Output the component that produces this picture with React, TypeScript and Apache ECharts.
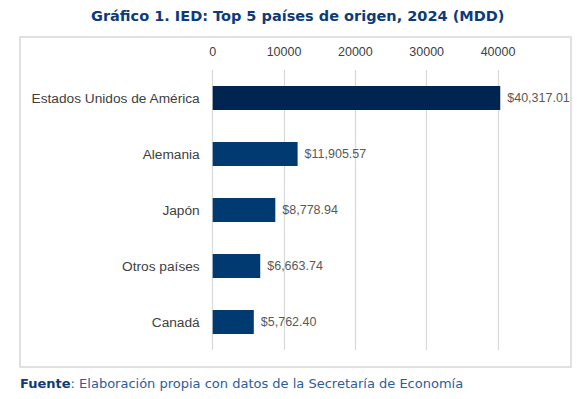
import React, { useEffect, useRef } from "react";
import * as echarts from "echarts";

const categories = ["Estados Unidos de América", "Alemania", "Japón", "Otros países", "Canadá"];
const values = [40317.01, 11905.57, 8778.94, 6663.74, 5762.4];
const barColors = ["#002550", "#003a70", "#003a70", "#003a70", "#003a70"];
const titleText = "Gráfico 1. IED: Top 5 países de origen, 2024 (MDD)";
const sourceBold = "Fuente";
const sourceRest = ": Elaboración propia con datos de la Secretaría de Economía";

function fmt(v: number): string {
  return "$" + v.toLocaleString("en-US", { minimumFractionDigits: 2, maximumFractionDigits: 2 });
}

export default function App() {
  const ref = useRef<HTMLDivElement>(null);
  useEffect(() => {
    document.body.style.margin = "0";
    const chart = echarts.init(ref.current!, null, { renderer: "svg" });
    chart.setOption({
      animation: false,
      backgroundColor: "#ffffff",
      title: {
        text: titleText,
        left: 86,
        top: 3,
        textStyle: {
          fontFamily: "DejaVu Sans",
          fontWeight: "bold",
          fontSize: 14.5,
          color: "#0d3b7a",
        },
      },
      graphic: [
        {
          type: "rect",
          shape: { x: 20, y: 37, width: 551, height: 330 },
          style: { fill: "none", stroke: "#d6d6d6", lineWidth: 1.5 },
          z: -1,
        },
        {
          type: "text",
          left: 20,
          top: 377,
          style: {
            text: "{b|" + sourceBold + "}{r|" + sourceRest + "}",
            rich: {
              b: { fontFamily: "DejaVu Sans", fontWeight: "bold", fontSize: 13, fill: "#0d3b7a" },
              r: { fontFamily: "DejaVu Sans", fontSize: 13, fill: "#2d5c9c" },
            },
          },
        },
      ],
      grid: { left: 212.7, top: 70, width: 285.3, height: 280, containLabel: false },
      xAxis: {
        type: "value",
        position: "top",
        min: 0,
        max: 40000,
        interval: 10000,
        axisLine: { show: false },
        axisTick: { show: false },
        axisLabel: {
          margin: 12,
          color: "#404040",
          fontFamily: "Liberation Sans",
          fontSize: 12.5,
          formatter: (v: number) => String(v),
        },
        splitLine: { show: true, lineStyle: { color: "#d9d9d9", width: 1.2 } },
      },
      yAxis: {
        type: "category",
        inverse: true,
        data: categories,
        axisLine: { show: false },
        axisTick: { show: false },
        axisLabel: {
          margin: 13,
          color: "#404040",
          fontFamily: "Liberation Sans",
          fontSize: 13.7,
        },
      },
      series: [
        {
          type: "bar",
          clip: false,
          barWidth: 24,
          data: values.map((v, i) => ({ value: v, itemStyle: { color: barColors[i] } })),
          label: {
            show: true,
            position: "right",
            distance: 7,
            color: "#595959",
            fontFamily: "Liberation Sans",
            fontSize: 12.5,
            formatter: (p: any) => fmt(p.value),
          },
        },
      ],
    });
    return () => chart.dispose();
  }, []);
  return <div ref={ref} style={{ position: "fixed", left: 0, top: 0, width: 577, height: 399 }} />;
}
